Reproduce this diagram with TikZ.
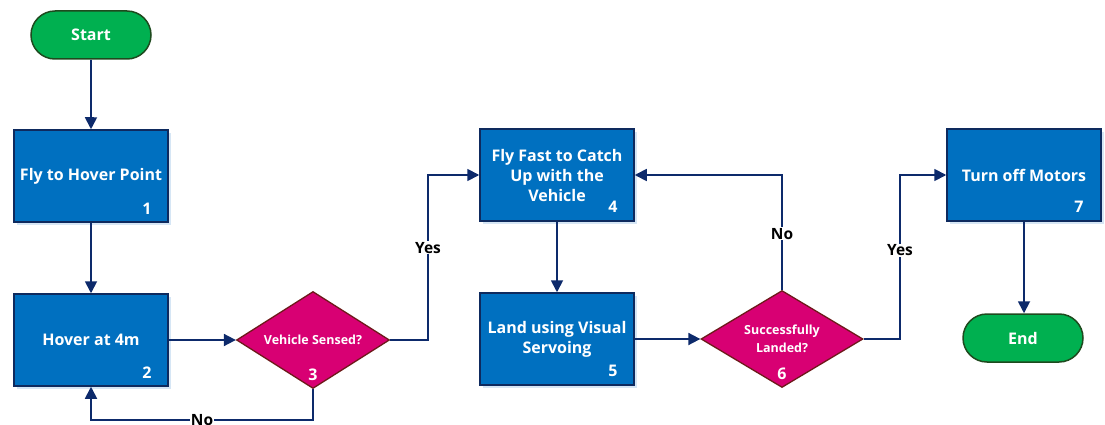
\documentclass[tikz,border=0pt]{standalone}
\usepackage{fontspec}
\setmainfont{Open Sans}
\usetikzlibrary{shapes.geometric,shapes.misc,arrows.meta,shadows,calc}
\definecolor{boxblue}{HTML}{0070C0}
\definecolor{boxedge}{HTML}{0E2A5E}
\definecolor{dmfill}{HTML}{D80073}
\definecolor{dmedge}{HTML}{6E1A1A}
\definecolor{pillfill}{HTML}{00B050}
\definecolor{pilledge}{HTML}{1E4A1E}
\definecolor{conncol}{HTML}{0D2A6B}
\definecolor{shadowcol}{HTML}{D6E6F5}
\tikzset{
  stepbox/.style={rectangle, minimum width=154pt, minimum height=92pt, inner sep=0pt,
    fill=boxblue, draw=boxedge, line width=1.5pt, align=center, text=white,
    font=\fontsize{16}{20}\selectfont\bfseries,
    drop shadow={shadow xshift=3pt, shadow yshift=-3pt, fill=shadowcol, opacity=1}},
  decide/.style={diamond, aspect=1.6, inner sep=0pt, fill=dmfill, draw=dmedge, line width=1.3pt,
    align=center, text=white, font=\fontsize{12.5}{18}\selectfont\bfseries},
  pill/.style={rounded rectangle, minimum width=120pt, minimum height=48pt, inner sep=0pt,
    fill=pillfill, draw=pilledge, line width=1.5pt, text=white,
    font=\fontsize{16}{18}\selectfont\bfseries},
  num/.style={text=white, font=\fontsize{16}{18}\selectfont\bfseries, inner sep=0pt},
  conn/.style={draw=conncol, line width=1.8pt, -{Triangle[length=12pt,width=12pt]}},
  lbl/.style={fill=white, text=black, inner sep=1pt, font=\fontsize{15.5}{17}\selectfont\bfseries},
}
\begin{document}
\begin{tikzpicture}[x=1pt,y=-1pt]
\useasboundingbox (0,0) rectangle (1105,425);
\node[pill] (start) at (91,35) {Start};
\node[stepbox] (b1) at (91,176) {Fly to Hover Point};
\node[num] at (147,209) {1};
\node[stepbox] (b2) at (91,340) {Hover at 4m};
\node[num] at (147,373) {2};
\node[decide, minimum width=153pt, minimum height=97pt] (d3) at (313,340) {Vehicle Sensed?};
\node[num] at (313,375) {3};
\node[stepbox] (b4) at (557,175) {Fly Fast to Catch\\Up with the\\Vehicle};
\node[num] at (613,207) {4};
\node[stepbox] (b5) at (557,339) {Land using Visual\\Servoing};
\node[num] at (613,371) {5};
\node[decide, minimum width=162pt, minimum height=97pt] (d6) at (782,339) {Successfully\\Landed?};
\node[num] at (782,374) {6};
\node[stepbox] (b7) at (1024,175) {Turn off Motors};
\node[num] at (1079,207) {7};
\node[pill] (end) at (1023,338) {End};
\coordinate (ya) at (428,175);
\coordinate (na) at (91,420);
\coordinate (yb) at (900,175);
\draw[conn] (start) -- (b1);
\draw[conn] (b1) -- (b2);
\draw[conn] (b2) -- (d3);
\draw[conn] (d3.east) -| node[lbl,pos=0.78]{Yes} (ya) -- (b4.west);
\draw[conn] (d3.south) |- node[lbl,pos=0.75]{No} (na) -- (b2.south);
\draw[conn] (b4) -- (b5);
\draw[conn] (b5) -- (b5 -| d6.west);
\draw[conn] (d6.north) |- node[lbl,pos=0.245]{No} (b4.east);
\draw[conn] (d6.east) -| node[lbl,pos=0.77]{Yes} (yb) -- (b7.west);
\draw[conn] (b7.south) -- (b7.south |- end.north);
\end{tikzpicture}
\end{document}
